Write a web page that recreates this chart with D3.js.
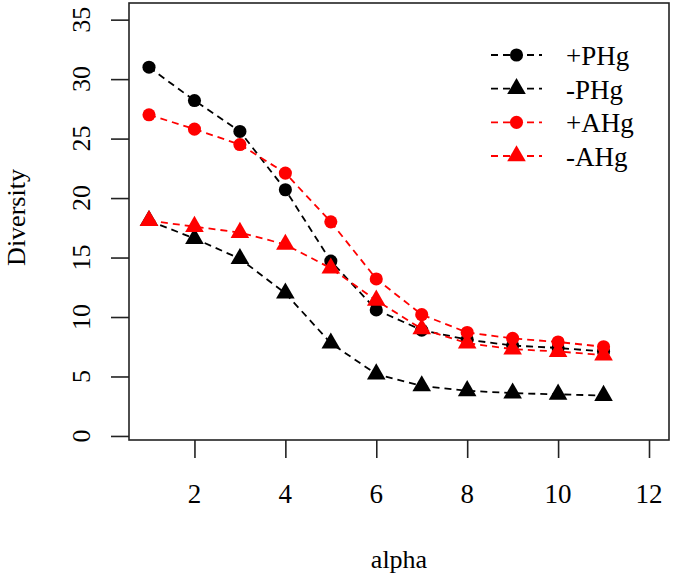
<!DOCTYPE html>
<html>
<head>
<meta charset="utf-8">
<script src="https://cdn.jsdelivr.net/npm/d3@7"></script>
<style>
  html, body { margin: 0; padding: 0; background: #fff; }
  svg { display: block; }
  text { font-family: "Liberation Serif", "Times New Roman", serif; fill: #000; }
</style>
</head>
<body>
<svg id="chart" width="673" height="579"></svg>
<script>
// ---- data ----
const alpha = [1, 2, 3, 4, 5, 6, 7, 8, 9, 10, 11];
const plusPHg  = [31.0, 28.2, 25.6, 20.7, 14.7, 10.6, 8.9, 8.1, 7.6, 7.4, 7.1];
const minusPHg = [18.1, 16.6, 14.9, 12.0, 7.8, 5.2, 4.2, 3.8, 3.6, 3.5, 3.4];
const plusAHg  = [27.0, 25.8, 24.5, 22.1, 18.0, 13.2, 10.2, 8.7, 8.2, 7.9, 7.5];
const minusAHg = [18.1, 17.6, 17.1, 16.1, 14.1, 11.4, 9.0, 7.8, 7.3, 7.1, 6.8];
const seriesNames = ["+PHg", "-PHg", "+AHg", "-AHg"];
const xTicks = [2, 4, 6, 8, 10, 12];
const yTicks = [0, 5, 10, 15, 20, 25, 30, 35];
const xLabel = "alpha";
const yLabel = "Diversity";

// ---- styles ----
const seriesStyle = [
  { color: "#000", shape: "circle" },
  { color: "#000", shape: "triangle" },
  { color: "#ff0000", shape: "circle" },
  { color: "#ff0000", shape: "triangle" }
];
const seriesValues = [plusPHg, minusPHg, plusAHg, minusAHg];

const svg = d3.select("#chart");
const box = { left: 129, right: 669, top: 3, bottom: 440 };

const x = d3.scaleLinear().domain([0.56, 12.44]).range([box.left, box.right]);
const y = d3.scaleLinear().domain([-0.34, 36.4]).range([box.bottom, box.top]);

// box
svg.append("rect")
  .attr("x", box.left).attr("y", box.top)
  .attr("width", box.right - box.left).attr("height", box.bottom - box.top)
  .attr("fill", "none").attr("stroke", "#222").attr("stroke-width", 1.6);

// y axis
const yAxis = svg.append("g").attr("transform", `translate(${box.left},0)`)
  .call(d3.axisLeft(y).tickValues(yTicks).tickSize(18).tickFormat(""));
yAxis.select(".domain").remove();
yAxis.selectAll(".tick line").attr("stroke", "#222").attr("stroke-width", 1.6);
svg.append("g").selectAll("text").data(yTicks).join("text")
  .attr("transform", d => `translate(90,${y(d)}) rotate(-90)`)
  .attr("text-anchor", "middle")
  .attr("font-size", 26)
  .text(d => d);

// x axis
const xAxis = svg.append("g").attr("transform", `translate(0,${box.bottom})`)
  .call(d3.axisBottom(x).tickValues(xTicks).tickSize(18).tickFormat(""));
xAxis.select(".domain").remove();
xAxis.selectAll(".tick line").attr("stroke", "#222").attr("stroke-width", 1.6);
svg.append("g").selectAll("text").data(xTicks).join("text")
  .attr("x", d => x(d)).attr("y", 503)
  .attr("text-anchor", "middle")
  .attr("font-size", 27)
  .text(d => d);

// axis titles
svg.append("text")
  .attr("x", (box.left + box.right) / 2).attr("y", 568)
  .attr("text-anchor", "middle").attr("font-size", 26)
  .text(xLabel);
svg.append("text")
  .attr("transform", `translate(25,${(box.top + box.bottom) / 2 - 4}) rotate(-90)`)
  .attr("text-anchor", "middle").attr("font-size", 26)
  .text(yLabel);

// symbols
const circleSym = d3.symbol().type(d3.symbolCircle).size(135);
const triSym = d3.symbol().type(d3.symbolTriangle).size(150);

const line = d3.line().x((d, i) => x(alpha[i])).y(d => y(d));

seriesValues.forEach((vals, si) => {
  const st = seriesStyle[si];
  const g = svg.append("g");
  g.append("path").datum(vals)
    .attr("d", line)
    .attr("fill", "none").attr("stroke", st.color)
    .attr("stroke-width", 1.8).attr("stroke-dasharray", "7,5");
  g.selectAll("path.pt").data(vals).join("path").attr("class", "pt")
    .attr("transform", (d, i) => `translate(${x(alpha[i])},${y(d)})`)
    .attr("d", st.shape === "circle" ? circleSym : triSym)
    .attr("fill", st.color);
});

// legend
const legRowY = d3.scaleLinear().domain([0, 3]).range([55, 156]);
const leg = svg.append("g");
seriesNames.forEach((name, si) => {
  const st = seriesStyle[si];
  const cy = legRowY(si);
  leg.append("line")
    .attr("x1", 491).attr("x2", 542).attr("y1", cy).attr("y2", cy)
    .attr("stroke", st.color).attr("stroke-width", 1.8).attr("stroke-dasharray", "7,5");
  leg.append("path")
    .attr("transform", `translate(516.5,${cy})`)
    .attr("d", st.shape === "circle" ? circleSym : triSym)
    .attr("fill", st.color);
  leg.append("text")
    .attr("x", 566).attr("y", cy + 10)
    .attr("font-size", 27)
    .text(name);
});
</script>
</body>
</html>
